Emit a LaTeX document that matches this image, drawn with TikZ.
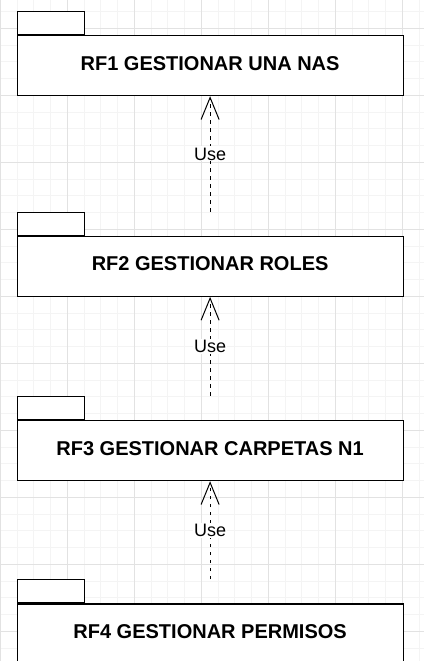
\documentclass[tikz,border=0pt]{standalone}
\usepackage{fontspec}
\setmainfont{Liberation Sans}
\usetikzlibrary{arrows.meta}
\definecolor{gridminor}{RGB}{244,244,244}
\definecolor{gridmajor}{RGB}{226,226,226}
\begin{document}
\begin{tikzpicture}[x=1pt,y=-1pt,
  pkg/.style={draw=black, line width=1.2pt, fill=white, minimum width=386pt, minimum height=60pt,
    anchor=north west, inner sep=0pt, font=\fontsize{20}{24}\selectfont\bfseries,
    text height=14.3pt, text depth=5pt},
  pkgtab/.style={draw=black, line width=1.2pt, fill=white, minimum width=67pt, minimum height=23pt,
    anchor=south west, inner sep=0pt},
  usedep/.style={line width=1pt, dash pattern=on 3.5pt off 4.5pt,
    -{Straight Barb[length=22pt,width=18pt]}},
  uselbl/.style={fill=white, inner sep=1pt, font=\fontsize{18}{20}\selectfont,
    text height=13pt, text depth=0pt},
  minorline/.style={draw=gridminor, line width=1pt},
  majorline/.style={draw=gridmajor, line width=1pt}]
\useasboundingbox (0,0) rectangle (424,661);
\clip (0,0) rectangle (424,661);
% grid
\foreach \i in {0,...,25} \draw[minorline] ({0.3+16.75*\i},0) -- ({0.3+16.75*\i},661);
\foreach \k in {-1,...,38} \draw[minorline] (0,{28.3+16.75*\k}) -- (424,{28.3+16.75*\k});
\foreach \i in {0,...,6} \draw[majorline] ({0.3+67*\i},0) -- ({0.3+67*\i},661);
\foreach \k in {-1,...,9} \draw[majorline] (0,{28.3+67*\k}) -- (424,{28.3+67*\k});
% packages
\node[pkg] (b1) at (16.5,35) {RF1 GESTIONAR UNA NAS};
\node[pkgtab] (t1) at (b1.north west) {};
\node[pkg] (b2) at (16.5,235.7) {RF2 GESTIONAR ROLES};
\node[pkgtab] (t2) at (b2.north west) {};
\node[pkg] (b3) at (16.5,420) {RF3 GESTIONAR CARPETAS N1};
\node[pkgtab] (t3) at (b3.north west) {};
\node[pkg] (b4) at (16.5,603.3) {RF4 GESTIONAR PERMISOS};
\node[pkgtab] (t4) at (b4.north west) {};
% dependencies
\draw[usedep] (t2.north -| b2.north) -- node[uselbl] {Use} (b1.south);
\draw[usedep] (t3.north -| b3.north) -- node[uselbl] {Use} (b2.south);
\draw[usedep] (t4.north -| b4.north) -- node[uselbl] {Use} (b3.south);
\end{tikzpicture}
\end{document}
